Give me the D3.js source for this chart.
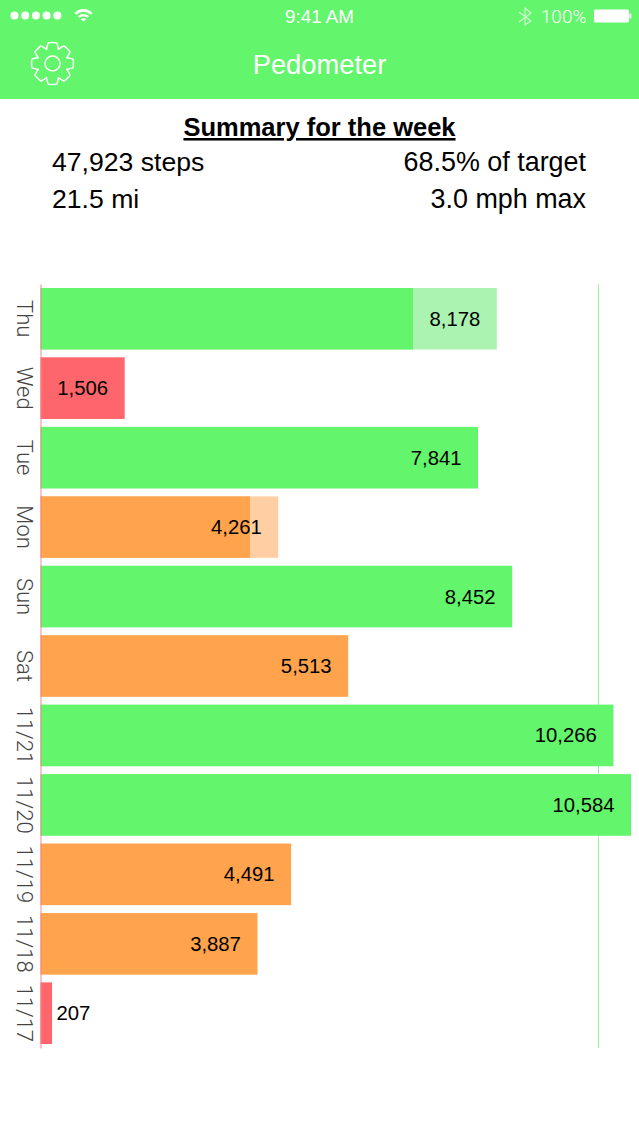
<!DOCTYPE html>
<html>
<head>
<meta charset="utf-8">
<title>Pedometer</title>
<script src="https://cdn.jsdelivr.net/npm/d3@7"></script>
<style>
html, body { margin: 0; padding: 0; background: #fff; }
svg { display: block; }
text { font-family: "Liberation Sans", Arial, sans-serif; }
.light { font-family: Roboto, "Liberation Sans", sans-serif; font-weight: 300; }
</style>
</head>
<body>
<div id="chart"></div>
<script>
// values, top bar first
const days = ['Thu', 'Wed', 'Tue', 'Mon', 'Sun', 'Sat', '11/21', '11/20', '11/19', '11/18', '11/17'];
const steps = [8178, 1506, 7841, 4261, 8452, 5513, 10266, 10584, 4491, 3887, 207];
// how far the solid part goes, the rest of the bar is paler
const solidSteps = [6676, 1506, 7841, 3755, 8452, 5513, 10266, 10584, 4491, 3887, 207];
const targetSteps = 10000;
const summaryLeft = ['47,923 steps', '21.5 mi'];
const summaryRight = ['68.5% of target', '3.0 mph max'];

const width = 639;
const height = 1136;
const GREEN = '#63f56b';

const svg = d3.select('#chart').append('svg')
    .attr('width', width)
    .attr('height', height)
    .attr('viewBox', `0 0 ${width} ${height}`);

// header
svg.append('rect').attr('width', width).attr('height', 99).attr('fill', GREEN);

const status = svg.append('g').attr('fill', '#fff');
d3.range(5).forEach(i => {
    status.append('circle').attr('cx', 14.5 + i * 10.7).attr('cy', 15.5).attr('r', 4);
});
// wifi
const arc = d3.arc().startAngle(-0.8).endAngle(0.8);
[[0, 3.5], [5.5, 7.8], [10, 12.6]].forEach(([r0, r1]) => {
    status.append('path')
        .attr('transform', 'translate(83.5,21.7)')
        .attr('d', arc({ innerRadius: r0, outerRadius: r1 }));
});
status.append('text').attr('x', 319.5).attr('y', 22.5).attr('text-anchor', 'middle')
    .attr('font-size', 18.8).text('9:41 AM');
status.append('text').attr('x', 586.5).attr('y', 22.5).attr('text-anchor', 'end')
    .attr('class', 'light').attr('font-size', 19).text('100%');
status.append('path')
    .attr('d', 'M519,12 L531,21 L525,25 L525,8 L531,13 L519,22')
    .attr('fill', 'none').attr('stroke', '#fff').attr('stroke-opacity', 0.7).attr('stroke-width', 1.2);
status.append('rect').attr('x', 594).attr('y', 9.5).attr('width', 35).attr('height', 13).attr('rx', 1.5);
status.append('rect').attr('x', 629.5).attr('y', 13.5).attr('width', 1.8).attr('height', 5);

// settings gear, radial outline with 8 teeth
const gearPts = [];
d3.range(8).forEach(i => {
    const a = i * Math.PI / 4;
    [[-0.39, 15.5], [-0.2, 21], [0.2, 21], [0.39, 15.5]].forEach(([da, r]) => gearPts.push([a + da, r]));
});
const gear = svg.append('g').attr('transform', 'translate(52.5,63.5)')
    .attr('fill', 'none').attr('stroke', '#fff').attr('stroke-width', 1.5);
gear.append('path').attr('d', d3.lineRadial().curve(d3.curveCardinalClosed.tension(0.6))(gearPts));
gear.append('circle').attr('r', 7.5);

svg.append('text').attr('x', 319.5).attr('y', 74).attr('text-anchor', 'middle')
    .attr('fill', '#fff').attr('font-size', 27.3).text('Pedometer');

// summary block
svg.append('text').attr('x', 319.5).attr('y', 136).attr('text-anchor', 'middle')
    .attr('font-size', 25.5).attr('font-weight', 'bold').attr('fill', '#000')
    .attr('text-decoration', 'underline').text('Summary for the week');
const rowY = d3.scalePoint().domain([0, 1]).range([171, 208]);
svg.selectAll('.sumL').data(summaryLeft).join('text').attr('class', 'sumL')
    .attr('x', 52).attr('y', (d, i) => rowY(i)).attr('font-size', 26.6).text(d => d);
svg.selectAll('.sumR').data(summaryRight).join('text').attr('class', 'sumR')
    .attr('x', 586).attr('y', (d, i) => rowY(i)).attr('text-anchor', 'end').attr('font-size', 26.9).text(d => d);

// chart
const x = d3.scaleLinear().domain([0, targetSteps]).range([40.5, 598.5]);
const y = d3.scaleBand().domain(days).range([284, 1048]).paddingInner(0.115).paddingOuter(0.0575);
const color = d3.scaleThreshold().domain([2500, 7000]).range(['#ff666b', '#ffa34d', GREEN]);
const paleColor = d3.scaleThreshold().domain([2500, 7000]).range(['#ffa6a9', '#ffcfa3', '#aaf3b0']);
const rows = days.map((day, i) => ({ day, value: steps[i], solid: solidSteps[i] }));

// target line sits behind the bars
svg.append('line')
    .attr('x1', x(targetSteps)).attr('x2', x(targetSteps))
    .attr('y1', 284).attr('y2', 1048)
    .attr('stroke', '#9cf0a0').attr('stroke-width', 1);

// pale full bar, only visible where solid is shorter
svg.append('g').selectAll('rect').data(rows).join('rect')
    .attr('x', x(0))
    .attr('y', d => y(d.day))
    .attr('width', d => x(d.value) - x(0))
    .attr('height', y.bandwidth())
    .attr('fill', d => paleColor(d.value));
svg.append('g').selectAll('rect').data(rows).join('rect')
    .attr('x', x(0))
    .attr('y', d => y(d.day))
    .attr('width', d => x(d.solid) - x(0))
    .attr('height', y.bandwidth())
    .attr('fill', d => color(d.value));

// category axis
const axis = svg.append('g')
    .attr('transform', `translate(${x(0)},0)`)
    .call(d3.axisLeft(y).tickSize(0).tickPadding(0));
axis.select('.domain').attr('stroke', '#f08a90').attr('stroke-width', 1);
axis.selectAll('.tick text')
    .attr('class', 'light')
    .attr('x', 0).attr('dy', 0)
    .attr('text-anchor', 'middle')
    .attr('transform', 'translate(-16.5,0) rotate(90)')
    .attr('dominant-baseline', 'central')
    .attr('font-size', 22)
    .attr('fill', '#444');

// value labels, inside the bar end unless the bar is too short
svg.append('g').selectAll('text').data(rows).join('text')
    .attr('x', d => x(d.value) < 100 ? x(d.value) + 4.5 : x(d.value) - 16.5)
    .attr('y', d => y(d.day) + y.bandwidth() / 2 + 7)
    .attr('text-anchor', d => x(d.value) < 100 ? 'start' : 'end')
    .attr('font-size', 20.3)
    .attr('fill', '#000')
    .text(d => d3.format(',')(d.value));
</script>
</body>
</html>
